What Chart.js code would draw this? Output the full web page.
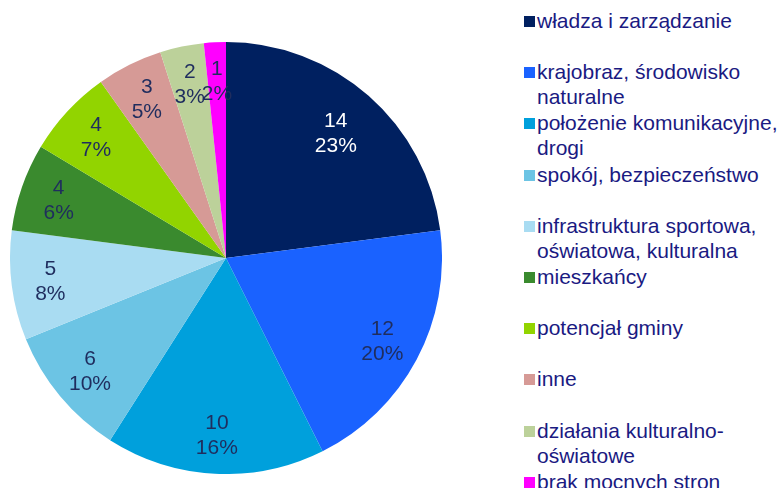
<!DOCTYPE html>
<html>
<head>
<meta charset="utf-8">
<script src="https://cdn.jsdelivr.net/npm/chart.js"></script>
<style>
  html, body { margin: 0; padding: 0; background: #fff; }
  #wrap { position: relative; width: 782px; height: 488px; overflow: hidden; }
  #pie { position: absolute; left: 10px; top: 42px; width: 432px; height: 432px; }
  #legenda { position: absolute; left: 522px; top: 8px; width: 260px; margin: 0; padding: 0; list-style: none;
    font-family: "Liberation Sans", Arial, sans-serif; font-size: 21px; color: #1a1a82; }
  #legenda li { position: relative; height: 51.2px; padding-left: 15px; line-height: 25px; }
  #legenda li span.kw { position: absolute; left: 2px; top: 8px; width: 11px; height: 11px; }
</style>
</head>
<body>
<div id="wrap">
  <div id="pie"><canvas id="myChart"></canvas></div>
  <ul id="legenda"></ul>
</div>
<script>
const kategorie = [
  "władza i zarządzanie",
  "krajobraz, środowisko naturalne",
  "położenie komunikacyjne, drogi",
  "spokój, bezpieczeństwo",
  "infrastruktura sportowa, oświatowa, kulturalna",
  "mieszkańcy",
  "potencjał gminy",
  "inne",
  "działania kulturalno-oświatowe",
  "brak mocnych stron"
];
const wartosci = [14, 12, 10, 6, 5, 4, 4, 3, 2, 1];
const procenty = [23, 20, 16, 10, 8, 6, 7, 5, 3, 2];
const kolory = ["#002060", "#1a62ff", "#00a0dc", "#6cc4e4", "#a9dcf2", "#3a8a2e", "#92d400", "#d69a96", "#bcd19a", "#ff00ff"];

// legenda w html (z zawijaniem tekstu)
const legenda = document.querySelector("#legenda");
kategorie.forEach((kat, i) => {
  const li = document.createElement("li");
  li.innerHTML = `<span class="kw" style="background:${kolory[i]}"></span>${kat}`;
  legenda.appendChild(li);
});

// etykiety wartosc + procent na wycinkach
const etykiety = {
  id: "etykiety",
  afterDatasetsDraw(chart) {
    const ctx = chart.ctx;
    const meta = chart.getDatasetMeta(0);
    ctx.save();
    ctx.font = '21px "Liberation Sans", Arial, sans-serif';
    ctx.textAlign = "center";
    ctx.textBaseline = "middle";
    meta.data.forEach((arc, i) => {
      const p = arc.getProps(["x", "y", "startAngle", "endAngle", "outerRadius"], true);
      const kat = (p.startAngle + p.endAngle) / 2;
      const r = p.outerRadius * (i === 0 ? 0.77 : 0.82);
      const x = p.x + Math.cos(kat) * r;
      const y = p.y + Math.sin(kat) * r;
      ctx.fillStyle = i === 0 ? "#ffffff" : "#1f2d5e";
      ctx.fillText(wartosci[i], x, y - 12);
      ctx.fillText(procenty[i] + "%", x, y + 13);
    });
    ctx.restore();
  }
};

const chart = document.querySelector("#myChart");
const myChart = new Chart(chart, {
  type: "pie",
  data: {
    labels: kategorie,
    datasets: [{
      data: wartosci,
      backgroundColor: kolory,
      borderWidth: 0
    }]
  },
  options: {
    responsive: true,
    maintainAspectRatio: false,
    animation: false,
    plugins: {
      legend: { display: false },
      tooltip: { enabled: false }
    }
  },
  plugins: [etykiety]
});
</script>
</body>
</html>
